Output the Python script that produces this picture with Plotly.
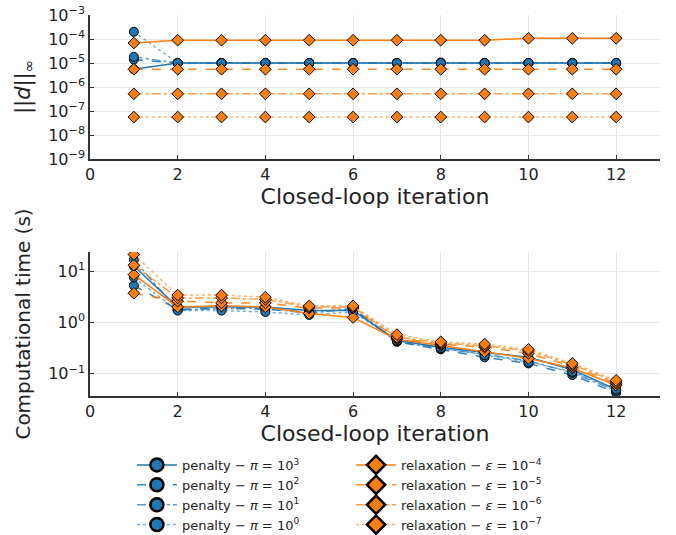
import plotly.graph_objects as go

iterations = list(range(1, 13))

# Top panel: ||d||_inf
pen_d_1e3 = [5.5e-6] + [1.0e-5] * 11
pen_d_1e2 = [1.4e-5] + [1.0e-5] * 11
pen_d_1e1 = [1.8e-5] + [1.0e-5] * 6 + [1.05e-5] + [1.0e-5] * 4
pen_d_1e0 = [2.0e-4] + [1.0e-5] * 11
rel_d_1e4 = [6.8e-5] + [8.9e-5] * 8 + [1.07e-4] * 3
rel_d_1e5 = [5.5e-6] * 12
rel_d_1e6 = [5.2e-7] * 12
rel_d_1e7 = [5.6e-8] * 12

# Bottom panel: computational time (s)
pen_t_1e3 = [12.5, 2.0, 2.0, 2.0, 1.7, 1.7, 0.45, 0.33, 0.26, 0.21, 0.12, 0.050]
pen_t_1e2 = [5.2, 1.8, 1.9, 1.8, 1.6, 1.8, 0.42, 0.30, 0.21, 0.16, 0.095, 0.043]
pen_t_1e1 = [16.5, 1.75, 1.85, 1.9, 1.5, 1.9, 0.43, 0.31, 0.24, 0.18, 0.105, 0.047]
pen_t_1e0 = [7.5, 1.7, 1.7, 1.6, 1.4, 1.6, 0.44, 0.32, 0.23, 0.17, 0.11, 0.050]
rel_t_1e4 = [8.5, 2.0, 2.1, 2.0, 1.5, 1.25, 0.47, 0.36, 0.27, 0.20, 0.13, 0.060]
rel_t_1e5 = [3.7, 2.6, 2.4, 2.4, 1.9, 1.9, 0.50, 0.38, 0.33, 0.25, 0.14, 0.065]
rel_t_1e6 = [13.0, 3.0, 3.0, 2.8, 2.0, 2.0, 0.52, 0.40, 0.35, 0.28, 0.15, 0.070]
rel_t_1e7 = [21.0, 3.4, 3.4, 3.1, 2.1, 2.1, 0.58, 0.42, 0.38, 0.30, 0.16, 0.075]

pen_labels = ["penalty − <i>π</i> = 10<sup>3</sup>", "penalty − <i>π</i> = 10<sup>2</sup>",
              "penalty − <i>π</i> = 10<sup>1</sup>", "penalty − <i>π</i> = 10<sup>0</sup>"]
rel_labels = ["relaxation − <i>ε</i> = 10<sup>−4</sup>", "relaxation − <i>ε</i> = 10<sup>−5</sup>",
              "relaxation − <i>ε</i> = 10<sup>−6</sup>", "relaxation − <i>ε</i> = 10<sup>−7</sup>"]

top_y_ticks = [1e-9, 1e-8, 1e-7, 1e-6, 1e-5, 1e-4, 1e-3]
top_y_text = ["10<sup>−9</sup>", "10<sup>−8</sup>", "10<sup>−7</sup>", "10<sup>−6</sup>",
              "10<sup>−5</sup>", "10<sup>−4</sup>", "10<sup>−3</sup>"]
bot_y_ticks = [0.1, 1, 10]
bot_y_text = ["10<sup>−1</sup>", "10<sup>0</sup>", "10<sup>1</sup>"]
x_ticks = [0, 2, 4, 6, 8, 10, 12]

dashes = ["solid", "dash", "dashdot", "dot"]
alphas = [1.0, 0.9, 0.75, 0.6]
BLUE = (31, 119, 180)
ORANGE = (255, 127, 14)

def rgba(c, a):
    return f"rgba({c[0]},{c[1]},{c[2]},{a})"

pen_d = [pen_d_1e3, pen_d_1e2, pen_d_1e1, pen_d_1e0]
rel_d = [rel_d_1e4, rel_d_1e5, rel_d_1e6, rel_d_1e7]
pen_t = [pen_t_1e3, pen_t_1e2, pen_t_1e1, pen_t_1e0]
rel_t = [rel_t_1e4, rel_t_1e5, rel_t_1e6, rel_t_1e7]

fig = go.Figure()

for i in range(4):
    for ys, ya in ((pen_d[i], "y"), (pen_t[i], "y2")):
        fig.add_trace(go.Scatter(
            x=iterations, y=ys, xaxis="x" if ya == "y" else "x2", yaxis=ya,
            mode="lines+markers", showlegend=False,
            line=dict(color=rgba(BLUE, alphas[i]), dash=dashes[i], width=1.5),
            marker=dict(symbol="circle", size=9, color=rgba(BLUE, 1),
                        line=dict(color="black", width=1))))
for i in range(4):
    for ys, ya in ((rel_d[i], "y"), (rel_t[i], "y2")):
        fig.add_trace(go.Scatter(
            x=iterations, y=ys, xaxis="x" if ya == "y" else "x2", yaxis=ya,
            mode="lines+markers", showlegend=False,
            line=dict(color=rgba(ORANGE, alphas[i]), dash=dashes[i], width=1.5),
            marker=dict(symbol="diamond", size=9, color=rgba(ORANGE, 1),
                        line=dict(color="black", width=1))))

# legend entries
for i in range(4):
    fig.add_trace(go.Scatter(
        x=[None], y=[None], mode="lines+markers", name=pen_labels[i], legend="legend",
        line=dict(color=rgba(BLUE, alphas[i]), dash=dashes[i], width=1.5),
        marker=dict(symbol="circle", size=13, color=rgba(BLUE, 1),
                    line=dict(color="black", width=2.5))))
for i in range(4):
    fig.add_trace(go.Scatter(
        x=[None], y=[None], mode="lines+markers", name=rel_labels[i], legend="legend2",
        line=dict(color=rgba(ORANGE, alphas[i]), dash=dashes[i], width=1.5),
        marker=dict(symbol="diamond", size=14, color=rgba(ORANGE, 1),
                    line=dict(color="black", width=2.5))))

axis_common = dict(showgrid=True, gridcolor="#e6e6e6", gridwidth=1,
                   showline=True, linecolor="#333333", linewidth=1.5,
                   ticks="inside", ticklen=4, tickcolor="#333333",
                   zeroline=False, automargin=False,
                   tickfont=dict(size=16, color="#222"))

fig.update_layout(
    width=676, height=535,
    margin=dict(l=90, r=16, t=15, b=139),
    paper_bgcolor="white", plot_bgcolor="white",
    font=dict(family="DejaVu Sans", color="#222"),
    xaxis=dict(domain=[0, 1], anchor="y", range=[0, 13], tickvals=x_ticks,
               title=dict(text="Closed-loop iteration", font=dict(size=22), standoff=6),
               **axis_common),
    yaxis=dict(domain=[0.622, 1.0], anchor="x", type="log", range=[-9, -3],
               tickvals=top_y_ticks, ticktext=top_y_text,
               title=dict(text="||<i>d</i>||<sub>∞</sub>", font=dict(size=21), standoff=12),
               **axis_common),
    xaxis2=dict(domain=[0, 1], anchor="y2", range=[0, 13], tickvals=x_ticks,
                title=dict(text="Closed-loop iteration", font=dict(size=22), standoff=6),
                **axis_common),
    yaxis2=dict(domain=[0, 0.378], anchor="x2", type="log", range=[-1.43, 1.37],
                tickvals=bot_y_ticks, ticktext=bot_y_text,
                title=dict(text="Computational time (s)", font=dict(size=20), standoff=12),
                **axis_common),
    legend=dict(x=0.0735, y=0.159, xanchor="left", yanchor="top", yref="container",
                orientation="v", font=dict(size=13), itemwidth=40, tracegroupgap=0,
                bgcolor="rgba(0,0,0,0)"),
    legend2=dict(x=0.458, y=0.159, xanchor="left", yanchor="top", yref="container",
                 orientation="v", font=dict(size=13), itemwidth=40, tracegroupgap=0,
                 bgcolor="rgba(0,0,0,0)"),
)

fig.write_html("out.html", config={"displayModeBar": False},
               post_script="document.body.style.margin='0';document.body.style.overflow='hidden';")
